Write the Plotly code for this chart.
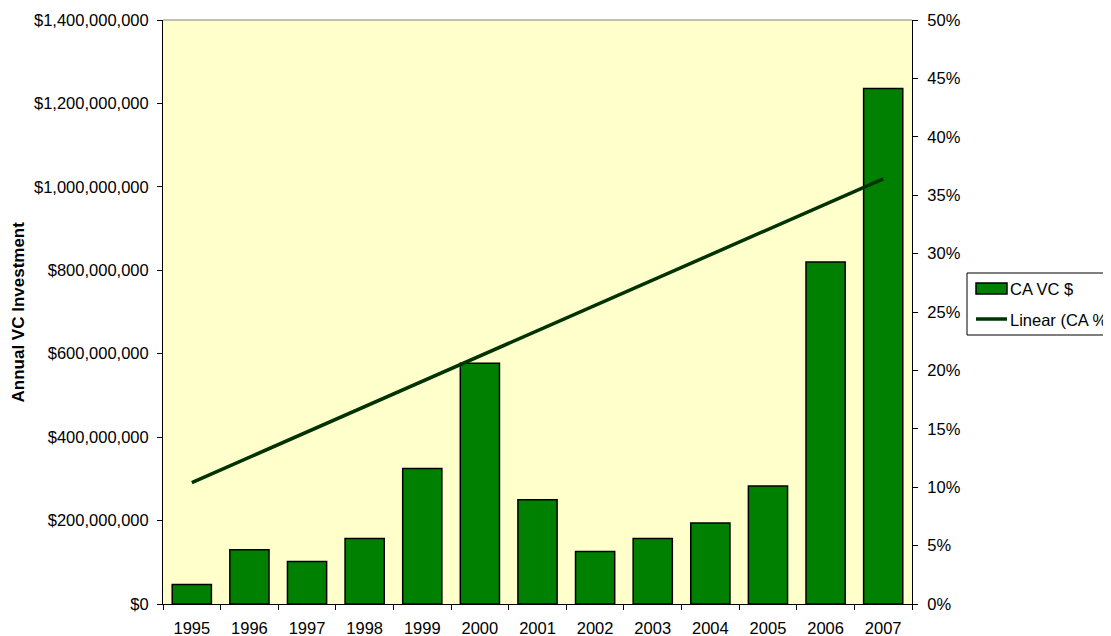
import plotly.graph_objects as go

years = ["1995", "1996", "1997", "1998", "1999", "2000", "2001",
         "2002", "2003", "2004", "2005", "2006", "2007"]
ca_vc_dollars = [47e6, 130e6, 102e6, 157e6, 325e6, 577e6, 250e6,
                 126e6, 157e6, 194e6, 283e6, 820e6, 1236e6]
trend_years = ["1995", "2007"]
trend_pct = [10.4, 36.4]

left_ticks = [0, 200000000, 400000000, 600000000, 800000000,
              1000000000, 1200000000, 1400000000]
left_ticktext = ["$0", "$200,000,000", "$400,000,000", "$600,000,000",
                 "$800,000,000", "$1,000,000,000", "$1,200,000,000",
                 "$1,400,000,000"]
right_ticks = [0, 5, 10, 15, 20, 25, 30, 35, 40, 45, 50]
right_ticktext = ["0%", "5%", "10%", "15%", "20%", "25%", "30%", "35%",
                  "40%", "45%", "50%"]

FONT = "Arial, Liberation Sans, sans-serif"
FS = 16.5
OFF = 8  # page body margin
W, H = 1111 - OFF, 636 - OFF
# plot area in window pixels: x 163..912, y 20..604
L, R, T, B = 163 - OFF, 1111 - 912, 20 - OFF, 636 - 604
PW = 912 - 163
PH = 604 - 20


def px(x):
    return (x - 163) / PW


def py(y):
    return (604 - y) / PH


fig = go.Figure()
fig.add_trace(go.Bar(
    x=years, y=ca_vc_dollars, name="CA VC $",
    marker=dict(color="#008000", line=dict(color="#000000", width=1.5)),
    showlegend=False,
))
fig.add_trace(go.Scatter(
    x=trend_years, y=trend_pct, yaxis="y2", mode="lines",
    name="Linear (CA %)", line=dict(color="#003300", width=3.5),
    showlegend=False,
))

boundaries = [i - 0.5 for i in range(len(years) + 1)]

fig.update_layout(
    width=W, height=H,
    margin=dict(l=L, r=R, t=T, b=B, autoexpand=False),
    paper_bgcolor="white", plot_bgcolor="#FFFFCC",
    bargap=0.32,
    font=dict(family=FONT, size=FS, color="#000000"),
    xaxis=dict(type="category", tickson="boundaries", ticks="outside",
               ticklen=5, tickcolor="#000000", showline=True,
               linecolor="#000000", linewidth=1, showgrid=False,
               tickfont=dict(size=FS), ticklabelstandoff=9,
               range=[-0.5, len(years) - 0.5]),
    xaxis2=dict(overlaying="x", anchor="y", range=[-0.5, len(years) - 0.5],
                tickmode="array", tickvals=boundaries, ticks="inside",
                ticklen=5, tickcolor="#000000", showticklabels=False,
                showline=False, showgrid=False, zeroline=False),
    yaxis=dict(range=[0, 1400000000], tickmode="array", tickvals=left_ticks,
               ticktext=left_ticktext, ticks="outside", ticklen=5,
               tickcolor="#000000", showline=True, linecolor="#000000",
               showgrid=False, zeroline=False, tickfont=dict(size=FS),
               ticklabelstandoff=5),
    yaxis2=dict(overlaying="y", side="right", anchor="x", range=[0, 50],
                tickmode="array", tickvals=right_ticks, ticktext=right_ticktext,
                ticks="outside", ticklen=5, tickcolor="#000000",
                showline=True, linecolor="#000000", showgrid=False,
                zeroline=False, tickfont=dict(size=FS), ticklabelstandoff=6),
    yaxis3=dict(overlaying="y", side="left", anchor="x", range=[0, 1400000000],
                tickmode="array", tickvals=left_ticks, ticks="inside",
                ticklen=5, tickcolor="#000000", showticklabels=False,
                showline=False, showgrid=False, zeroline=False),
    yaxis4=dict(overlaying="y", side="right", anchor="x", range=[0, 50],
                tickmode="array", tickvals=right_ticks, ticks="inside",
                ticklen=5, tickcolor="#000000", showticklabels=False,
                showline=False, showgrid=False, zeroline=False),
    showlegend=False,
)

# gray top border of plot area
fig.add_shape(type="line", xref="paper", yref="paper", x0=0, x1=1, y0=1, y1=1,
              line=dict(color="#808080", width=1))

# y-axis title
fig.add_annotation(text="<b>Annual VC Investment</b>", xref="paper", yref="paper",
                   x=px(17.5), y=py(312), textangle=-90, showarrow=False,
                   font=dict(size=17, family=FONT), xanchor="center", yanchor="middle")

# custom legend
fig.add_shape(type="rect", xref="paper", yref="paper",
              x0=px(967), x1=px(1130), y0=py(273), y1=py(335),
              line=dict(color="#000000", width=1), fillcolor="white")
fig.add_shape(type="rect", xref="paper", yref="paper",
              x0=px(976), x1=px(1007), y0=py(283), y1=py(294),
              line=dict(color="#000000", width=1.5), fillcolor="#008000")
fig.add_annotation(text="CA VC $", xref="paper", yref="paper", x=px(1008), y=py(289),
                   xanchor="left", yanchor="middle", showarrow=False,
                   font=dict(size=FS, family=FONT))
fig.add_shape(type="line", xref="paper", yref="paper",
              x0=px(976), x1=px(1007), y0=py(319), y1=py(319),
              line=dict(color="#003300", width=3.5))
fig.add_annotation(text="Linear (CA %)", xref="paper", yref="paper", x=px(1008), y=py(320),
                   xanchor="left", yanchor="middle", showarrow=False,
                   font=dict(size=FS, family=FONT))

fig.write_html("out.html")
